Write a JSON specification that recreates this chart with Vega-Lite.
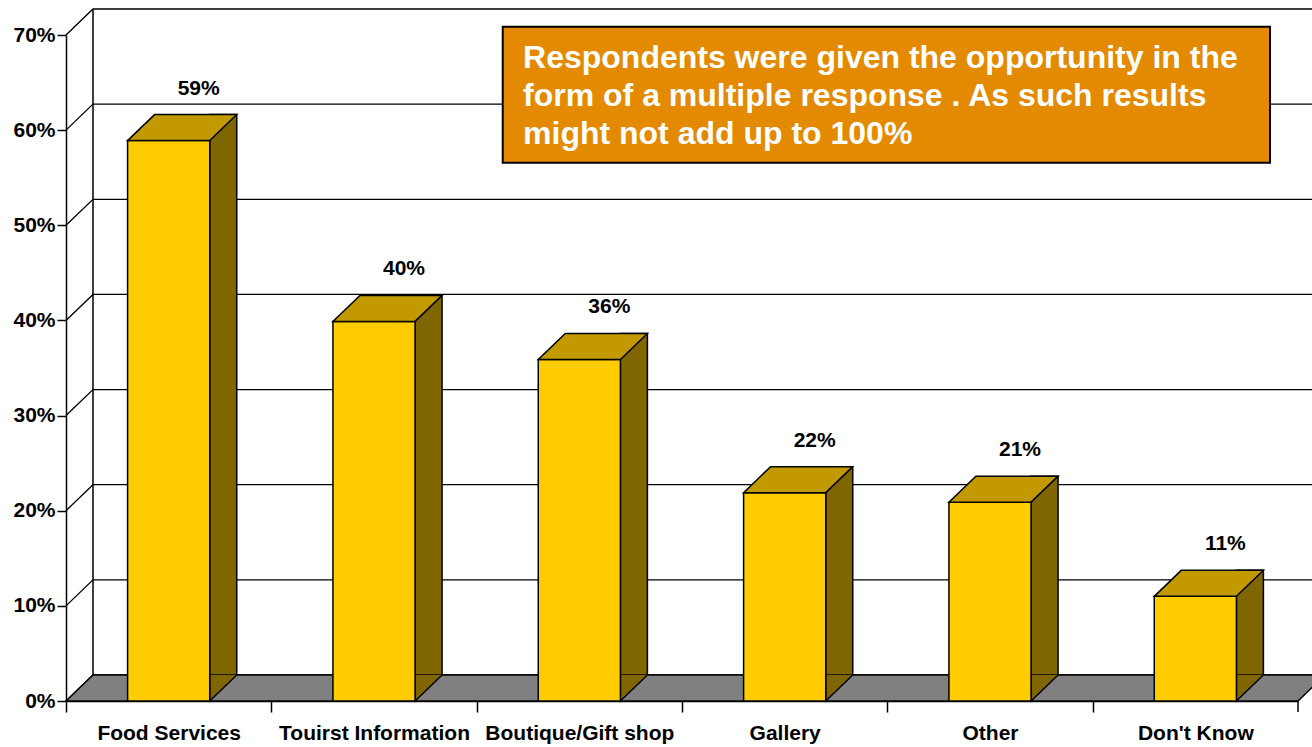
{
  "$schema": "https://vega.github.io/schema/vega-lite/v6.json",
  "width": 1232,
  "height": 666,
  "autosize": {"type": "none"},
  "padding": {"left": 66, "top": 35, "right": 14, "bottom": 46},
  "background": "white",
  "config": {"view": {"stroke": null}},
  "datasets": {
    "bars": [
      {"category": "Food Services", "share": 0.589},
      {"category": "Touirst Information", "share": 0.399},
      {"category": "Boutique/Gift shop", "share": 0.359},
      {"category": "Gallery", "share": 0.219},
      {"category": "Other", "share": 0.209},
      {"category": "Don't Know", "share": 0.11}
    ],
    "grid": [
      {"tick": 0}, {"tick": 0.1}, {"tick": 0.2}, {"tick": 0.3},
      {"tick": 0.4}, {"tick": 0.5}, {"tick": 0.6}, {"tick": 0.7}
    ],
    "note": [
      {"text": ["Respondents were given the opportunity in the", "form of a multiple response . As such results", "might not add up to 100%"]}
    ]
  },
  "data": {"name": "bars"},
  "layer": [
    {
      "data": {"name": "grid"},
      "mark": {"type": "point", "shape": "M-102.67,0L-75.67,-26L1160,-26", "size": 4, "filled": false, "stroke": "black", "strokeWidth": 1.3, "opacity": 1},
      "encoding": {
        "x": {"datum": "Food Services", "type": "nominal", "title": null},
        "y": {"field": "tick", "type": "quantitative", "title": null}
      }
    },
    {
      "data": {"name": "note"},
      "mark": {"type": "point", "shape": "M-102.67,0L-75.67,-26L1156.33,-26L1129.33,0ZM-75.67,-26V-692M1129.33,0V11", "size": 4, "filled": true, "fill": "#808080", "stroke": "black", "strokeWidth": 1.5, "opacity": 1},
      "encoding": {
        "x": {"datum": "Food Services", "type": "nominal", "title": null},
        "y": {"datum": 0, "type": "quantitative", "title": null}
      }
    },
    {
      "mark": {"type": "bar", "width": 27, "xOffset": 54.57, "yOffset": -26, "y2Offset": -26, "fill": "#806600", "stroke": "black", "strokeWidth": 1.5},
      "encoding": {
        "x": {"field": "category", "type": "nominal", "title": null},
        "y": {"field": "share", "type": "quantitative", "title": null}
      }
    },
    {
      "mark": {"type": "point", "shape": "M41.07,-26L41.07,0L68.07,-26", "size": 4, "filled": true, "fill": "#806600", "stroke": "black", "strokeWidth": 1.5, "opacity": 1},
      "encoding": {
        "x": {"field": "category", "type": "nominal", "title": null},
        "y": {"datum": 0, "type": "quantitative", "title": null}
      }
    },
    {
      "mark": {"type": "bar", "fill": "#FFCC00", "stroke": "black", "strokeWidth": 1.5},
      "encoding": {
        "x": {
          "field": "category",
          "type": "nominal",
          "title": null,
          "sort": null,
          "scale": {
            "domain": ["Food Services", "Touirst Information", "Boutique/Gift shop", "Gallery", "Other", "Don't Know"],
            "paddingInner": 0.6,
            "paddingOuter": 0.3
          },
          "axis": {
            "title": null,
            "labelAngle": 0,
            "labelAlign": "center",
            "labelLimit": 0,
            "labelOverlap": false,
            "labelFont": "Liberation Sans",
            "labelFontWeight": "bold",
            "labelFontSize": 21,
            "labelColor": "black",
            "labelPadding": 10,
            "labelBaseline": "top",
            "tickColor": "black",
            "tickWidth": 1.5,
            "tickSize": 11,
            "bandPosition": 0,
            "tickOffset": -61.6,
            "labelOffset": 61.6,
            "domainColor": "black",
            "domainWidth": 1.5,
            "grid": false
          }
        },
        "y": {
          "field": "share",
          "type": "quantitative",
          "title": null,
          "scale": {"domain": [0, 0.7], "nice": false, "zero": true},
          "axis": {
            "title": null,
            "values": [0, 0.1, 0.2, 0.3, 0.4, 0.5, 0.6, 0.7],
            "format": ".0%",
            "labelFont": "Liberation Sans",
            "labelFontWeight": "bold",
            "labelFontSize": 21,
            "labelColor": "black",
            "labelPadding": 2,
            "tickColor": "black",
            "tickWidth": 1.5,
            "tickSize": 9,
            "domainColor": "black",
            "domainWidth": 1.5,
            "grid": false
          }
        }
      }
    },
    {
      "mark": {"type": "point", "shape": "M-41.07,0L41.07,0L68.07,-26L-14.07,-26Z", "size": 4, "filled": true, "fill": "#C29A00", "stroke": "black", "strokeWidth": 1.5, "opacity": 1},
      "encoding": {
        "x": {"field": "category", "type": "nominal", "title": null},
        "y": {"field": "share", "type": "quantitative", "title": null}
      }
    },
    {
      "mark": {"type": "text", "dx": 30, "dy": -52, "align": "center", "baseline": "middle", "font": "Liberation Sans", "fontWeight": "bold", "fontSize": 21, "color": "black"},
      "encoding": {
        "x": {"field": "category", "type": "nominal", "title": null},
        "y": {"field": "share", "type": "quantitative", "title": null},
        "text": {"field": "share", "type": "quantitative", "format": ".0%"}
      }
    },
    {
      "data": {"name": "note"},
      "mark": {"type": "point", "shape": "M-76.6,-8.3H690.7V127.7H-76.6Z", "size": 4, "filled": true, "fill": "#E38A00", "stroke": "black", "strokeWidth": 2, "opacity": 1},
      "encoding": {
        "x": {"datum": "Boutique/Gift shop", "type": "nominal", "title": null},
        "y": {"datum": 0.7, "type": "quantitative", "title": null}
      }
    },
    {
      "data": {"name": "note"},
      "mark": {"type": "text", "dx": -56.3, "dy": 33, "align": "left", "baseline": "alphabetic", "font": "Liberation Sans", "fontWeight": "bold", "fontSize": 32, "lineHeight": 38, "color": "white"},
      "encoding": {
        "x": {"datum": "Boutique/Gift shop", "type": "nominal", "title": null},
        "y": {"datum": 0.7, "type": "quantitative", "title": null},
        "text": {"field": "text"}
      }
    }
  ]
}
